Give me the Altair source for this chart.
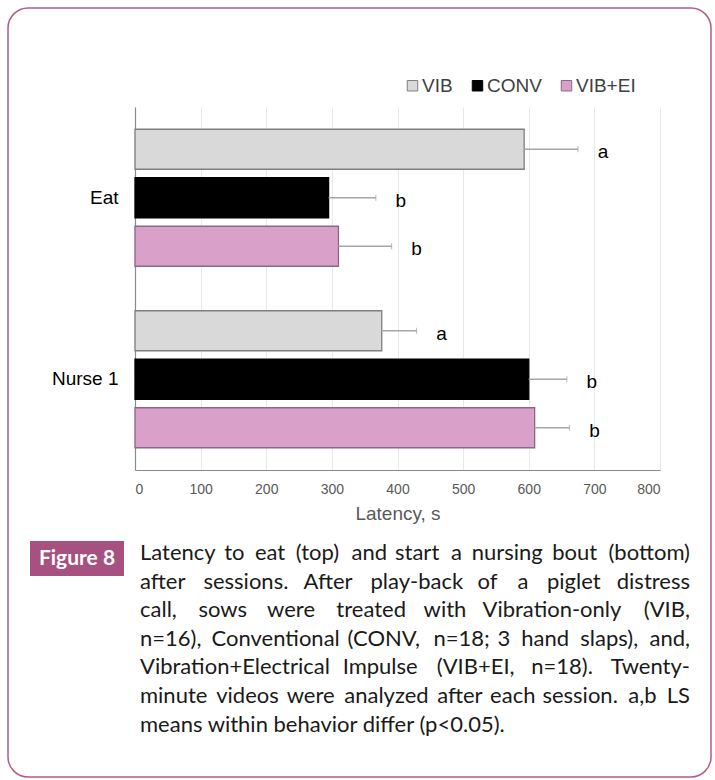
import altair as alt
import pandas as pd

# ---------------- data ----------------
behaviors = ["Eat", "Nurse 1"]
treatments = ["VIB", "CONV", "VIB+EI"]

eat_latency = [593, 295, 310]
eat_se = [82, 72, 81]
eat_letters = ["a", "b", "b"]

nurse_latency = [376, 600, 609]
nurse_se = [53, 58, 53]
nurse_letters = ["a", "b", "b"]

x_ticks = [0, 100, 200, 300, 400, 500, 600, 700, 800]

figure_label = "Figure 8"
caption_lines = [
    "Latency to eat (top) and start a nursing bout (bottom)",
    "after sessions. After play-back of a piglet distress",
    "call, sows were treated with Vibration-only (VIB,",
    "n=16), Conventional (CONV, n=18; 3 hand slaps), and,",
    "Vibration+Electrical Impulse (VIB+EI, n=18). Twenty-",
    "minute videos were analyzed after each session. a,b LS",
    "means within behavior differ (p<0.05).",
]

# ---------------- styling ----------------
fills = ["#d9d9d9", "#000000", "#d9a1c9"]
outlines = ["#7f7f7f", "#000000", "#8a6a80"]
whisker_color = "#a6a6a6"
accent = "#a6517f"
frame_color = "#b45a8d"

PLOT_LEFT, PLOT_TOP = 135, 107
PLOT_W, PLOT_H = 525, 363
CANVAS_W, CANVAS_H = 715, 780

rows = []
for beh, means, ses, lets in [
    ("Eat", eat_latency, eat_se, eat_letters),
    ("Nurse 1", nurse_latency, nurse_se, nurse_letters),
]:
    for t, m, s, l in zip(treatments, means, ses, lets):
        rows.append({"behavior": beh, "treatment": t, "latency": m,
                     "hi": m + s, "letter": l})
df = pd.DataFrame(rows)

y_enc = alt.Y(
    "behavior:N", sort=behaviors,
    scale=alt.Scale(paddingInner=0, paddingOuter=0),
    axis=alt.Axis(title=None, ticks=False, labelPadding=17, labelFontSize=19,
                  labelFont="Liberation Sans", labelColor="#000000",
                  domainColor="#8a8a8a", domainWidth=1.2),
)
yoff_enc = alt.YOffset(
    "treatment:N", sort=treatments,
    scale=alt.Scale(paddingInner=0.175, paddingOuter=0.459),
)
x_enc = alt.X(
    "latency:Q", scale=alt.Scale(domain=[0, 800], nice=False),
    axis=alt.Axis(values=x_ticks, title="Latency, s", grid=True,
                  gridColor="#e8e8e8", ticks=False, labelPadding=12,
                  labelFontSize=14, labelFont="Liberation Sans",
                  labelColor="#595959", titleFontSize=19,
                  titleFont="Liberation Sans", titleFontWeight="normal",
                  titleColor="#595959", titlePadding=8,
                  domainColor="#8a8a8a", domainWidth=1.2),
)

legend_kw = dict(
    title=None, orient="none", legendX=268, legendY=-31,
    direction="horizontal", symbolType="square", symbolSize=110,
    symbolStrokeWidth=1, labelFontSize=19, labelFont="Liberation Sans",
    labelColor="#404040", labelOffset=0, columnPadding=15, padding=0,
)

bars = alt.Chart(df).mark_bar(strokeWidth=1.3).encode(
    x=x_enc, y=y_enc, yOffset=yoff_enc,
    color=alt.Color("treatment:N", sort=treatments,
                    scale=alt.Scale(domain=treatments, range=fills),
                    legend=alt.Legend(**legend_kw)),
    stroke=alt.Stroke("treatment:N", sort=treatments,
                      scale=alt.Scale(domain=treatments, range=outlines),
                      legend=alt.Legend(**legend_kw)),
)

whiskers = alt.Chart(df).mark_rule(color=whisker_color, strokeWidth=1.3).encode(
    x="latency:Q", x2="hi:Q", y=y_enc, yOffset=yoff_enc,
)
caps = alt.Chart(df).mark_tick(color=whisker_color, thickness=1.2, size=6).encode(
    x="hi:Q", y=y_enc, yOffset=yoff_enc,
)
letters = alt.Chart(df).mark_text(
    dx=25, dy=3, align="center", baseline="middle", fontSize=19,
    font="Liberation Sans", color="#000000",
).encode(x="hi:Q", y=y_enc, yOffset=yoff_enc, text="letter:N")

# ---------------- frame and caption ----------------
one = pd.DataFrame({"k": [0]})

frame = alt.Chart(one).mark_rect(
    fillOpacity=0, stroke=frame_color, strokeWidth=1.5, cornerRadius=20,
).encode(
    x=alt.value(8 - PLOT_LEFT), x2=alt.value(711 - PLOT_LEFT),
    y=alt.value(8 - PLOT_TOP), y2=alt.value(777 - PLOT_TOP),
)

label_box = alt.Chart(one).mark_rect(color=accent).encode(
    x=alt.value(30 - PLOT_LEFT), x2=alt.value(124 - PLOT_LEFT),
    y=alt.value(541 - PLOT_TOP), y2=alt.value(576 - PLOT_TOP),
)
label_text = alt.Chart(one).mark_text(
    text=figure_label, font="Lato", fontWeight="bold", fontSize=21,
    color="#ffffff", align="center", baseline="middle",
).encode(x=alt.value(77 - PLOT_LEFT), y=alt.value(559 - PLOT_TOP))

# approximate advance widths (em) used to justify the caption lines
_adv = {" ": 0.2, "i": 0.23, "j": 0.23, "l": 0.23, "f": 0.3, "t": 0.32,
        "r": 0.35, "I": 0.28, "(": 0.3, ")": 0.3, ",": 0.22, ".": 0.22,
        ";": 0.22, "-": 0.32, "=": 0.55, "+": 0.55, "<": 0.55, "m": 0.82,
        "w": 0.74, "W": 0.95, "C": 0.66, "O": 0.76, "N": 0.74, "V": 0.66,
        "E": 0.55, "B": 0.62, "L": 0.5, "T": 0.55, "A": 0.65, "S": 0.52,
        "c": 0.45, "s": 0.4, "k": 0.48, "v": 0.48, "y": 0.48, "z": 0.44,
        "a": 0.49, "e": 0.51}

CAP_SIZE = 22
CAP_L, CAP_R = 140, 690
CAP_BASE, CAP_STEP = 560, 28.6


def word_width(word):
    return sum(_adv.get(c, 0.54) for c in word) * CAP_SIZE


left_words, right_words = [], []
for li, line in enumerate(caption_lines[:-1]):
    words = line.split(" ")
    widths = [word_width(w) for w in words]
    gap = (CAP_R - CAP_L - sum(widths)) / (len(words) - 1)
    yb = CAP_BASE + li * CAP_STEP - PLOT_TOP
    n = len(words)
    for i, w in enumerate(words):
        if i < n / 2:
            xs = CAP_L + sum(widths[:i]) + gap * i
            left_words.append({"w": w, "px": xs - PLOT_LEFT, "py": yb})
        else:
            xe = CAP_R - sum(widths[i + 1:]) - gap * (n - 1 - i)
            right_words.append({"w": w, "px": xe - PLOT_LEFT, "py": yb})
left_words.append({"w": caption_lines[-1], "px": CAP_L - PLOT_LEFT,
                   "py": CAP_BASE + (len(caption_lines) - 1) * CAP_STEP - PLOT_TOP})


def caption_layer(records, align):
    return alt.Chart(pd.DataFrame(records)).mark_text(
        align=align, baseline="alphabetic", font="Lato", fontSize=CAP_SIZE,
        color="#1a1a1a",
    ).encode(
        x=alt.X("px:Q", scale=None, axis=None),
        y=alt.Y("py:Q", scale=None, axis=None),
        text="w:N",
    )


chart = alt.layer(
    bars, whiskers, caps, letters, frame, label_box, label_text,
    caption_layer(left_words, "left"), caption_layer(right_words, "right"),
).properties(
    width=PLOT_W, height=PLOT_H, autosize="none",
    padding={"left": PLOT_LEFT, "top": PLOT_TOP,
             "right": CANVAS_W - PLOT_LEFT - PLOT_W,
             "bottom": CANVAS_H - PLOT_TOP - PLOT_H},
    background="#ffffff",
).configure_view(stroke=None)

chart.save("out.html", embed_options={"renderer": "svg", "actions": False})
